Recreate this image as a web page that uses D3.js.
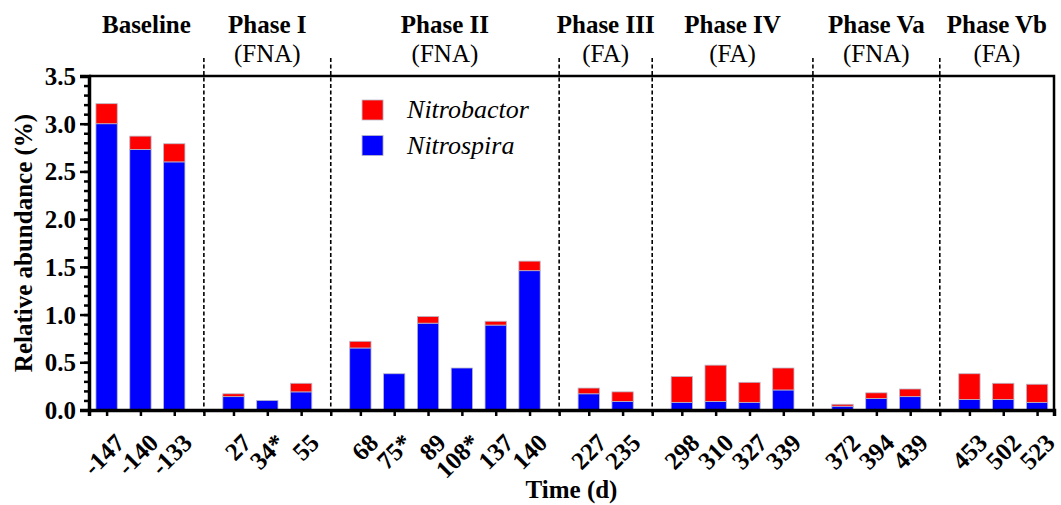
<!DOCTYPE html>
<html>
<head>
<meta charset="utf-8">
<script src="https://cdn.jsdelivr.net/npm/d3@7"></script>
<style>
  html, body { margin: 0; padding: 0; background: #fff; overflow: hidden; }
  svg { display: block; }
  svg text { font-family: "Liberation Serif", "DejaVu Serif", "Times New Roman", Times, serif; }
</style>
</head>
<body>
<div id="chart"></div>
<script>
// data
const groups = ["Baseline", "Phase I", "Phase II", "Phase III", "Phase IV", "Phase Va", "Phase Vb"];
const groupSub = ["", "(FNA)", "(FNA)", "(FA)", "(FA)", "(FNA)", "(FA)"];
const groupSizes = [3, 3, 6, 2, 4, 3, 3];
const days = ["-147", "-140", "-133", "27", "34*", "55", "68", "75*", "89", "108*", "137", "140",
  "227", "235", "298", "310", "327", "339", "372", "394", "439", "453", "502", "523"];
const nitrospira = [3.00, 2.73, 2.60, 0.14, 0.10, 0.19, 0.65, 0.38, 0.91, 0.44, 0.89, 1.46,
  0.17, 0.09, 0.08, 0.09, 0.08, 0.21, 0.04, 0.12, 0.14, 0.11, 0.11, 0.08];
const nitrobactor = [0.21, 0.14, 0.19, 0.03, 0.00, 0.09, 0.07, 0.00, 0.07, 0.00, 0.04, 0.10,
  0.06, 0.10, 0.27, 0.38, 0.21, 0.23, 0.02, 0.06, 0.08, 0.27, 0.17, 0.19];
const yTicks = [0, 0.5, 1.0, 1.5, 2.0, 2.5, 3.0, 3.5];

const width = 1061, height = 505;
const margin = { top: 76, right: 7, bottom: 95, left: 89 };
const innerWidth = width - margin.left - margin.right;
const innerHeight = height - margin.top - margin.bottom;
const serif = "'Liberation Serif', 'DejaVu Serif', 'Times New Roman', Times, serif";

// bar slot position: one unit per bar, extra gap between groups
const gapExtra = 0.75;
const rows = [];
days.forEach((d, i) => {
  let g = 0, acc = groupSizes[0];
  while (i >= acc) { g++; acc += groupSizes[g]; }
  rows.push({ day: d, u: i + gapExtra * g, g, nitrospira: nitrospira[i], nitrobactor: nitrobactor[i] });
});
const lastU = rows[rows.length - 1].u;

const x = d3.scaleLinear().domain([-0.52, lastU + 0.5]).range([0, innerWidth]);
const y = d3.scaleLinear().domain([0, 3.5]).range([innerHeight, 0]);
const barW = (x(1) - x(0)) * 0.63;

// separators sit in the middle of each gap
const seps = [];
let idx = 0;
groupSizes.slice(0, -1).forEach(n => {
  idx += n;
  seps.push((rows[idx - 1].u + rows[idx].u) / 2);
});
const tickUs = rows.map(r => r.u).concat(seps);

const svg = d3.select("#chart").append("svg")
  .attr("width", width).attr("height", height)
  .attr("font-family", serif);
const chart = svg.append("g")
  .attr("transform", `translate(${margin.left},${margin.top})`);

// dashed separators
chart.selectAll("line.sep")
  .data(seps)
  .join("line")
  .attr("class", "sep")
  .attr("x1", d => x(d)).attr("x2", d => x(d))
  .attr("y1", -18).attr("y2", innerHeight + 3)
  .attr("stroke", "#000")
  .attr("stroke-width", 1.6)
  .attr("stroke-dasharray", "4,2.5");

// stacked bars
const stack = d3.stack().keys(["nitrospira", "nitrobactor"])(rows);
const colors = { nitrospira: "#0000ff", nitrobactor: "#ff0000" };
chart.selectAll("g.layer")
  .data(stack)
  .join("g")
  .attr("class", "layer")
  .attr("fill", d => colors[d.key])
  .selectAll("rect")
  .data(d => d.filter(s => s[1] - s[0] > 0))
  .join("rect")
  .attr("x", d => x(d.data.u) - barW / 2)
  .attr("width", barW)
  .attr("y", d => y(d[1]))
  .attr("height", d => y(d[0]) - y(d[1]))
  .attr("stroke", "#b8b8c8")
  .attr("stroke-width", 0.8);

// frame: top and right
chart.append("path")
  .attr("d", `M0,0H${innerWidth}V${innerHeight}`)
  .attr("fill", "none")
  .attr("stroke", "#000")
  .attr("stroke-width", 2.5);

// y axis, minor ticks every 0.1
const yMinor = chart.append("g")
  .call(d3.axisLeft(y).tickValues(d3.range(0, 3.51, 0.1)).tickSize(5).tickFormat(""));
yMinor.select(".domain").remove();
yMinor.selectAll("line").attr("stroke-width", 2.5);

const yAxis = chart.append("g")
  .call(d3.axisLeft(y).tickValues(yTicks).tickSize(9).tickPadding(4).tickFormat(d3.format(".1f")));
yAxis.attr("font-family", serif);
yAxis.select(".domain").attr("stroke-width", 3.5);
yAxis.selectAll("line").attr("stroke-width", 2.5);
yAxis.selectAll("text")
  .attr("font-size", "25px")
  .attr("font-weight", "bold")
  .attr("fill", "#000")
  .attr("dy", "0.34em");

// x axis
const xAxis = chart.append("g")
  .attr("transform", `translate(0,${innerHeight})`)
  .call(d3.axisBottom(x).tickValues(tickUs).tickSize(6).tickFormat(""));
xAxis.select(".domain").attr("stroke-width", 3.5);
xAxis.selectAll("line").attr("stroke-width", 2.5);

chart.append("g")
  .selectAll("text")
  .data(rows)
  .join("text")
  .attr("transform", d => `translate(${x(d.u) + 7},${innerHeight + 22}) rotate(-45)`)
  .attr("text-anchor", "end")
  .attr("dy", "0.7em")
  .attr("font-size", "25px")
  .attr("font-weight", "bold")
  .text(d => d.day);

// group headers
const bounds = [-0.52].concat(seps, [lastU + 0.5]);
groups.forEach((name, i) => {
  const cx = (x(bounds[i]) + x(bounds[i + 1])) / 2;
  chart.append("text")
    .attr("x", cx).attr("y", -43)
    .attr("text-anchor", "middle")
    .attr("font-size", "25px")
    .attr("font-weight", "bold")
    .text(name);
  if (groupSub[i]) {
    chart.append("text")
      .attr("x", cx).attr("y", -14)
      .attr("text-anchor", "middle")
      .attr("font-size", "25px")
      .text(groupSub[i]);
  }
});

// axis titles
chart.append("text")
  .attr("x", innerWidth / 2)
  .attr("y", innerHeight + 88)
  .attr("text-anchor", "middle")
  .attr("font-size", "25px")
  .attr("font-weight", "bold")
  .text("Time (d)");

chart.append("text")
  .attr("x", -innerHeight / 2)
  .attr("y", -margin.left + 32)
  .attr("text-anchor", "middle")
  .attr("font-size", "25px")
  .attr("font-weight", "bold")
  .attr("transform", "rotate(-90)")
  .text("Relative abundance (%)");

// legend
const legend = chart.append("g")
  .attr("transform", `translate(${x(7.55)},24)`);
[["Nitrobactor", colors.nitrobactor], ["Nitrospira", colors.nitrospira]].forEach(([name, c], i) => {
  const row = legend.append("g").attr("transform", `translate(0,${i * 35.5})`);
  row.append("rect")
    .attr("width", 21).attr("height", 20)
    .attr("fill", c)
    .attr("stroke", "#b8b8c8").attr("stroke-width", 0.8);
  row.append("text")
    .attr("x", 45).attr("y", 18)
    .attr("font-size", "26px")
    .attr("font-style", "italic")
    .text(name);
});
</script>
</body>
</html>
